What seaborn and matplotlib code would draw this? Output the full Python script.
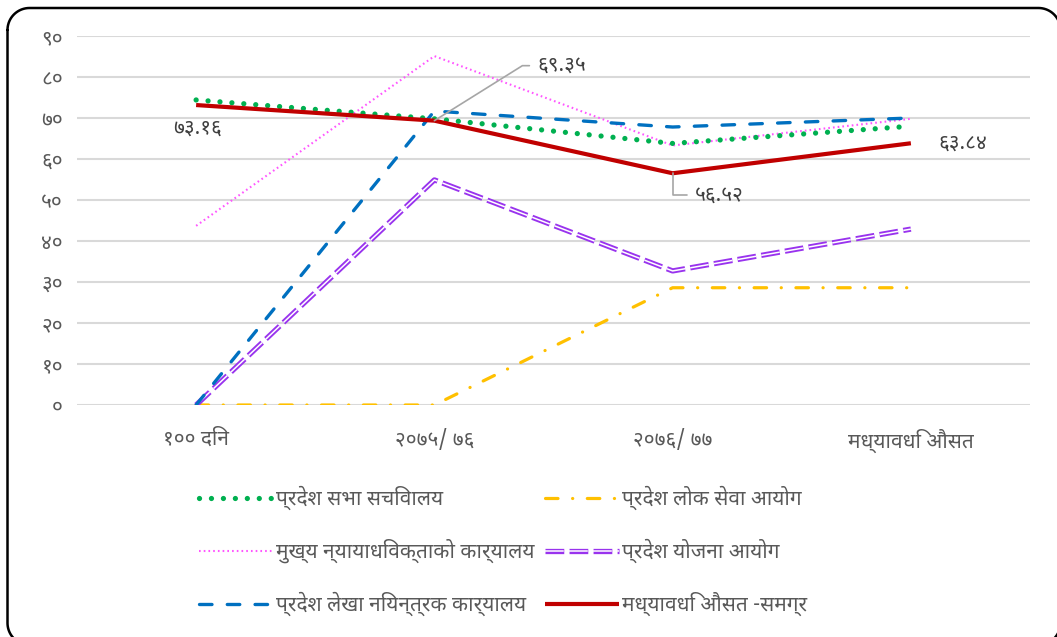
import matplotlib
matplotlib.use("Agg")
import matplotlib.pyplot as plt
import matplotlib.transforms as mtransforms
from matplotlib.legend_handler import HandlerTuple
import seaborn as sns
import pandas as pd
import numpy as np

# Data
periods = ["१०० दिन", "२०७५/ ७६", "२०७६/ ७७", "मध्यावधि औसत"]
sabha = [74.4, 69.8, 63.8, 68.0]
lok_sewa = [0, 0, 28.6, 28.6]
nyayadhibakta = [43.7, 85.1, 63.3, 69.8]
yojana = [0, 54.9, 32.7, 42.9]
lekha = [0, 71.7, 67.8, 70.0]
samagra = [73.16, 69.35, 56.52, 63.84]
yticks = [0, 10, 20, 30, 40, 50, 60, 70, 80, 90]
ytick_labels = ["०", "१०", "२०", "३०", "४०", "५०", "६०", "७०", "८०", "९०"]
point_labels = ["७३.१६", "६९.३५", "५६.५२", "६३.८४"]

names = ["प्रदेश सभा सचिवालय", "प्रदेश लोक सेवा आयोग", "मुख्य न्यायाधिवक्ताको कार्यालय",
         "प्रदेश योजना आयोग", "प्रदेश लेखा नियन्त्रक कार्यालय", "मध्यावधि औसत -समग्र"]

sns.set_theme(style="white")
plt.rcParams["font.family"] = ["Noto Sans Devanagari", "Mukta", "Lohit Devanagari", "FreeSans", "DejaVu Sans"]
plt.rcParams["lines.scale_dashes"] = False

df = pd.DataFrame({"period": periods, "x": range(4)})

fig = plt.figure(figsize=(10.57, 6.37), dpi=100)
ax = fig.add_axes([77/1057, 1-405/637, 953/1057, 369/637])

txt = "#595959"

sns.lineplot(x=df["x"], y=nyayadhibakta, ax=ax, color="#ff55ff", lw=1.5,
             linestyle=(0, (1.2, 2.2)), label=names[2])
sns.lineplot(x=df["x"], y=lok_sewa, ax=ax, color="#ffc000", lw=2.3,
             linestyle=(0, (9, 10.5, 0.1, 10.5)), dash_capstyle="round", label=names[1])
sns.lineplot(x=df["x"], y=yojana, ax=ax, color="#9933ee", lw=3.8,
             linestyle=(0, (13.5, 3.8)), label=names[3])
sns.lineplot(x=df["x"], y=yojana, ax=ax, color="white", lw=1.1,
             linestyle=(0, (13.5, 3.8)))
sns.lineplot(x=df["x"], y=lekha, ax=ax, color="#0070c0", lw=2.4,
             linestyle=(0, (9, 11)), dash_capstyle="round", label=names[4])
sns.lineplot(x=df["x"], y=sabha, ax=ax, color="#00b050", lw=3.8,
             linestyle=(0, (0.01, 8.6)), dash_capstyle="round", label=names[0])
sns.lineplot(x=df["x"], y=samagra, ax=ax, color="#c00000", lw=3.0,
             solid_capstyle="butt", label=names[5])

ax.set_xlim(-0.5, 3.5)
ax.set_ylim(0, 90)
ax.set_yticks(yticks)
ax.set_yticklabels(ytick_labels)
ax.set_xticks(range(4))
ax.set_xticklabels(periods)
ax.tick_params(axis="y", length=0, pad=10, labelsize=15, labelcolor=txt)
ax.tick_params(axis="x", length=0, pad=17, labelsize=15, labelcolor=txt)
ax.yaxis.grid(True, color="#d9d9d9", lw=1.5)
ax.set_axisbelow(True)
for s in ax.spines.values():
    s.set_visible(False)
ax.set_xlabel("")
ax.set_ylabel("")

# Data labels for the overall average
lab_col = "#404040"
ax.annotate(point_labels[0], xy=(0, samagra[0]), xytext=(-23, -23), textcoords="offset pixels",
            ha="left", va="center", fontsize=15, color=lab_col)
ax.annotate(point_labels[1], xy=(1, samagra[1]), xytext=(103, 55), textcoords="offset pixels",
            ha="left", va="center", fontsize=15, color=lab_col)
ax.annotate("", xy=(1, samagra[1]), xytext=(95, 55), textcoords="offset pixels",
            arrowprops=dict(arrowstyle="-", color="#a6a6a6", lw=1.2, shrinkA=0, shrinkB=0,
                            connectionstyle="angle,angleA=0,angleB=32,rad=0"))
ax.annotate(point_labels[2], xy=(2, samagra[2]), xytext=(22, -22), textcoords="offset pixels",
            ha="left", va="center", fontsize=15, color=lab_col)
ax.annotate("", xy=(2, samagra[2]), xytext=(14, -22), textcoords="offset pixels",
            arrowprops=dict(arrowstyle="-", color="#a6a6a6", lw=1.2, shrinkA=0, shrinkB=0,
                            connectionstyle="angle,angleA=0,angleB=90,rad=0"))
ax.annotate(point_labels[3], xy=(3, samagra[3]), xytext=(27, 0), textcoords="offset pixels",
            ha="left", va="center", fontsize=15, color=lab_col)

# Legend, filled row by row like the original
h, l = ax.get_legend_handles_labels()
lookup = dict(zip(l, h))
ax.get_legend().remove()
inner = plt.Line2D([], [], color="white", lw=1.1, linestyle=(0, (13.5, 3.8)))
lookup[names[3]] = (lookup[names[3]], inner)
order = [names[0], names[2], names[4], names[1], names[3], names[5]]
leg = fig.legend([lookup[n] for n in order], order, loc="upper left",
                 bbox_to_anchor=(180/1057, 1-467/637), ncol=2, frameon=False,
                 fontsize=15, handlelength=3.55, handletextpad=0.15, columnspacing=0.5,
                 labelspacing=1.38, handler_map={tuple: HandlerTuple(ndivide=1)})
for t in leg.get_texts():
    t.set_color(txt)

# Rounded border around the chart area, built in pixel units (origin top-left)
x0, x1, y0, y1, r = 7.5, 1060.5, 8, 645, 22
t = np.linspace(0, np.pi / 2, 20)
bx = np.concatenate([x0 + r - r * np.cos(t), x1 - r + r * np.sin(t),
                     x1 - r + r * np.cos(t), x0 + r - r * np.sin(t), [x0]])
by = np.concatenate([y0 + r - r * np.sin(t), y0 + r - r * np.cos(t),
                     y1 - r + r * np.sin(t), y1 - r + r * np.cos(t), [y0 + r]])
px = mtransforms.Affine2D().scale(1, -1).translate(0, 637)
fig.add_artist(plt.Line2D(bx, by, color="black", lw=1.8, transform=px))

fig.savefig("out.png", dpi=100)
